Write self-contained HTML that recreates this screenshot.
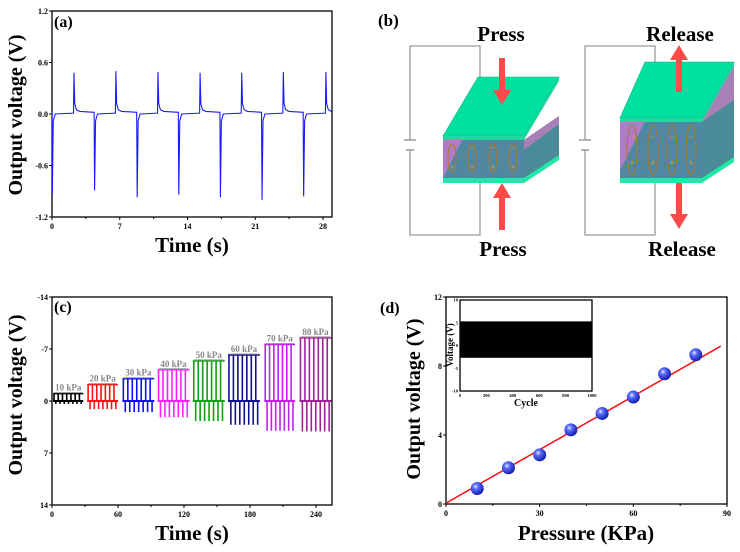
<!DOCTYPE html>
<html><head><meta charset="utf-8"><style>
html,body{margin:0;padding:0;background:#fff;}
svg{display:block;font-family:"Liberation Serif",serif;font-weight:bold;}
</style></head><body>
<svg id="fig" width="740" height="552" viewBox="0 0 740 552" xmlns="http://www.w3.org/2000/svg">
<defs>
<radialGradient id="ball" cx="0.38" cy="0.35" r="0.7">
<stop offset="0" stop-color="#e8ecff"/><stop offset="0.3" stop-color="#5a6cff"/><stop offset="1" stop-color="#0a14a0"/>
</radialGradient>
</defs>
<g id="pa"></g>
<g id="pb">
  <text x="378" y="26" font-size="17">(b)</text>
  <path d="M480,99 V46 H410 V140 M410,150 V235 H480 V183" fill="none" stroke="#999" stroke-width="1.3"/>
  <path d="M404,140 H416 M406,150 H414" stroke="#999" stroke-width="1.5"/>
  <g>
    <polygon points="524,140 559,116 559,159 524,181" fill="#4b8a98"/>
    <polygon points="524,140 559,116 559,124 524,150" fill="#a880b8"/>
    <rect x="443" y="140" width="81" height="41" fill="#4f88a0"/>
    <polygon points="443,140 462,140 443,178" fill="#b07cc8"/>
    <polygon points="443,178 524,178 559,155 559,160 524,183 443,183" fill="#20e8a8"/>
    <polygon points="443,136 478,77 559,77 524,136" fill="#00e0a0" stroke="#10b080" stroke-width="0.6"/>
    <polygon points="443,136 524,136 559,77 559,81 524,140 443,140" fill="#20d8a0"/>
  </g>
  <g id="pressEll"></g>
  <path d="M655,99 V46 H585 V140 M585,150 V235 H655 V183" fill="none" stroke="#999" stroke-width="1.3"/>
  <path d="M579,140 H591 M581,150 H589" stroke="#999" stroke-width="1.5"/>
  <g>
    <polygon points="702,122 734,62 734,160 702,181" fill="#4b8a98"/>
    <polygon points="702,122 734,62 734,100 702,122" fill="#a880b8"/>
    <rect x="620" y="122" width="82" height="58" fill="#4f88a0"/>
    <polygon points="620,122 645,122 620,170" fill="#b07cc8"/>
    <polygon points="620,178 702,178 734,157 734,162 702,183 620,183" fill="#20e8a8"/>
    <polygon points="620,118 645,62 734,62 702,118" fill="#00e0a0" stroke="#10b080" stroke-width="0.6"/>
    <polygon points="620,118 702,118 734,62 734,66 702,122 620,122" fill="#20d8a0"/>
  </g>
  <g id="relEll"></g>
  <path d="M499,58 H505 V90 H511 L502,105 L493,90 H499 Z" fill="#ff4a4a"/>
  <path d="M499,230 H505 V198 H511 L502,183 L493,198 H499 Z" fill="#ff4a4a"/>
  <path d="M676,92 H682 V60 H688 L679,45 L670,60 H676 Z" fill="#ff4a4a"/>
  <path d="M676,183 H682 V214 H688 L679,229 L670,214 H676 Z" fill="#ff4a4a"/>
  <text x="501" y="41" font-size="21" text-anchor="middle">Press</text>
  <text x="503" y="256" font-size="21" text-anchor="middle">Press</text>
  <text x="680" y="41" font-size="21" text-anchor="middle">Release</text>
  <text x="682" y="256" font-size="21" text-anchor="middle">Release</text>
</g>
<g id="pc"></g>
<g id="pd"></g>
</svg>
<script>
// ---------- Panel (a) data ----------
const aPosTimes=[2.27,6.6,10.95,15.3,19.6,23.9,28.3];
const aPosPeaks=[0.48,0.5,0.49,0.48,0.48,0.49,0.49];
const aNegTimes=[0.03,4.4,8.8,13.1,17.4,21.7,26.0];
const aNegPeaks=[-0.95,-0.89,-0.97,-0.94,-0.97,-1.0,-0.96];
const aYTicks=["1.2","0.6","0.0","-0.6","-1.2"];
const aYTickVals=[1.2,0.6,0,-0.6,-1.2];
const aXTicks=[0,7,14,21,28];
// ---------- Panel (c) data ----------
const cLabels=["10 kPa","20 kPa","30 kPa","40 kPa","50 kPa","60 kPa","70 kPa","80 kPa"];
const cColors=["#000000","#ff1010","#1010ff","#ff20ff","#10a010","#101090","#c020f0","#a0209a"];
const cStart=[1,32,64,96,128,160,193,225];
const cEnd=[28.5,60,93,125,157,189,221,254];
const cTop=[-1.0,-2.2,-3.0,-4.2,-5.4,-6.2,-7.6,-8.5];
const cBottom=[0.4,1.1,1.5,2.2,2.7,3.2,4.0,4.1];
const cYTickVals=[-14,-7,0,7,14];
const cXTicks=[0,60,120,180,240];
// ---------- Panel (d) data ----------
const dPressure=[10,20,30,40,50,60,70,80];
const dVoltage=[0.9,2.1,2.85,4.3,5.25,6.2,7.55,8.65];
const dFitX=[0,88];
const dFitY=[0.05,9.15];
const dYTicks=[0,4,8,12];
const dXTicks=[0,30,60,90];
const insetBandMax=[5.3];
const insetBandMin=[-2.7];
const insetXTicks=[0,200,400,600,800,1000];
const insetYTicks=[-10,-5,0,5,10];

const NS="http://www.w3.org/2000/svg";
function mk(parent,tag,attrs,text){const e=document.createElementNS(NS,tag);for(const k in attrs)e.setAttribute(k,attrs[k]);if(text!==undefined)e.textContent=text;parent.appendChild(e);return e;}

function frame(g,x0,y0,x1,y1,name){
  const r=mk(g,'rect',{x:x0,y:y0,width:x1-x0,height:y1-y0,fill:'none',stroke:'#000','stroke-width':1.3});
  
  
}
function ytitle(g,x,y,txt,size,name){
  const t=mk(g,'text',{x:x,y:y,'font-size':size,'text-anchor':'middle',transform:`rotate(-90 ${x} ${y})`,'dominant-baseline':'central'},txt);
  
  
}

// ===== Panel a =====
(function(){
  const g=document.getElementById('pa');
  const X0=52,X1=332,Y0=11,Y1=217;
  const xs=t=>X0+t*(323-52)/28;
  const ys=v=>114-v*(217-11)/2.4;
  frame(g,X0,Y0,X1,Y1,'panel-a-plot-frame');
  aYTickVals.forEach((v,i)=>{
    const l=mk(g,'line',{x1:X0-3,x2:X0,y1:ys(v),y2:ys(v),stroke:'#000'});
    
    
    const t=mk(g,'text',{x:X0-4,y:ys(v)+3,'font-size':8,'text-anchor':'end'},aYTicks[i]);
    
    
  });
  aXTicks.forEach(v=>{
    const l=mk(g,'line',{x1:xs(v),x2:xs(v),y1:Y1,y2:Y1+3,stroke:'#000'});
    
    
    if(xs(v+3.5)<X1){
      const m=mk(g,'line',{x1:xs(v+3.5),x2:xs(v+3.5),y1:Y1,y2:Y1+2,stroke:'#000'});
      
      
    }
    const t=mk(g,'text',{x:xs(v),y:Y1+12,'font-size':8,'text-anchor':'middle'},String(v));
    
    
  });
  const ev=[];
  aPosTimes.forEach((t,i)=>ev.push({t:t,v:aPosPeaks[i],pos:true}));
  aNegTimes.forEach((t,i)=>ev.push({t:t,v:aNegPeaks[i],pos:false}));
  ev.sort((a,b)=>a.t-b.t);
  let d=`M${xs(0)},${ys(0.01)}`;
  ev.forEach(e=>{
    if(e.pos){
      d+=` L${xs(e.t-0.05)},${ys(0.01)} L${xs(e.t)},${ys(e.v)} L${xs(e.t+0.08)},${ys(0.12)} L${xs(e.t+0.25)},${ys(0.05)} L${xs(e.t+0.6)},${ys(0.03)}`;
    } else {
      d+=` L${xs(Math.max(0,e.t-0.05))},${ys(0.02)} L${xs(e.t)},${ys(e.v)} L${xs(e.t+0.1)},${ys(-0.08)} L${xs(e.t+0.3)},${ys(0.0)}`;
    }
  });
  d+=` L${X1-1},${ys(0.03)}`;
  const p=mk(g,'path',{d:d,fill:'none',stroke:'#1a1aff','stroke-width':1.1});
  
  
  const lab=mk(g,'text',{x:54,y:27,'font-size':16},'(a)');
  
  
  ytitle(g,16,115,'Output voltage (V)',20,'a-y-axis-title');
  const xt=mk(g,'text',{x:192,y:252,'font-size':21,'text-anchor':'middle'},'Time (s)');
  
  
})();

// ===== Panel b dipoles =====
(function(){
  const L=document.getElementById('pressEll');
  [452,472,493,513].forEach(x=>{
    const e=mk(L,'ellipse',{cx:x,cy:158,rx:4,ry:14,fill:'none',stroke:'#b07820','stroke-width':1});
    
    
    const m=mk(L,'text',{x:x,y:150,'font-size':8,'text-anchor':'middle',fill:'#e0a020'},'−');
    
    
    const pl=mk(L,'text',{x:x,y:170,'font-size':8,'text-anchor':'middle',fill:'#e0a020'},'+');
    
    
  });
  const R=document.getElementById('relEll');
  [632,653,672,691].forEach(x=>{
    const e=mk(R,'ellipse',{cx:x,cy:150,rx:5,ry:25,fill:'none',stroke:'#b07820','stroke-width':1});
    
    
    const m=mk(R,'text',{x:x,y:140,'font-size':9,'text-anchor':'middle',fill:'#e0a020'},'−');
    
    
    const pl=mk(R,'text',{x:x,y:166,'font-size':9,'text-anchor':'middle',fill:'#e0a020'},'+');
    
    
  });
})();

// ===== Panel c =====
(function(){
  const g=document.getElementById('pc');
  const X0=52,X1=332,Y0=297,Y1=505;
  const xs=t=>X0+t*(316-52)/240;
  const ys=v=>401+v*(Y1-Y0)/28;
  frame(g,X0,Y0,X1,Y1,'panel-c-plot-frame');
  cYTickVals.forEach(v=>{
    const l=mk(g,'line',{x1:X0-3,x2:X0,y1:ys(v),y2:ys(v),stroke:'#000'});
    
    
    const t=mk(g,'text',{x:X0-4,y:ys(v)+3,'font-size':8,'text-anchor':'end'},String(v));
    
    
  });
  cXTicks.forEach(v=>{
    const l=mk(g,'line',{x1:xs(v),x2:xs(v),y1:Y1,y2:Y1+3,stroke:'#000'});
    
    
    if(xs(v+30)<X1){
      const m=mk(g,'line',{x1:xs(v+30),x2:xs(v+30),y1:Y1,y2:Y1+2,stroke:'#000'});
      
      
    }
    const t=mk(g,'text',{x:xs(v),y:Y1+12,'font-size':8,'text-anchor':'middle'},String(v));
    
    
  });
  cLabels.forEach((lab,i)=>{
    const grp=mk(g,'g',{});
    
    
    const s=cStart[i],e=cEnd[i],w=e-s,col=cColors[i];
    const base=mk(grp,'line',{x1:xs(s),x2:xs(e),y1:ys(0),y2:ys(0),stroke:col,'stroke-width':2});
    
    
    const top=mk(grp,'line',{x1:xs(s),x2:xs(e),y1:ys(cTop[i]),y2:ys(cTop[i]),stroke:col,'stroke-width':1.5});
    
    
    for(let k=0;k<7;k++){
      const tu=s+w*(0.03+k*0.14);
      const up=mk(grp,'line',{x1:xs(tu),x2:xs(tu),y1:ys(0),y2:ys(cTop[i]),stroke:col,'stroke-width':1.6});
      
      
      const td=tu+w*0.06;
      const dn=mk(grp,'line',{x1:xs(td),x2:xs(td),y1:ys(0),y2:ys(cBottom[i]),stroke:col,'stroke-width':1.6});
      
      
    }
    const gl=mk(grp,'line',{x1:xs(s+1),x2:xs(e-1),y1:ys(cTop[i])-1,y2:ys(cTop[i])-1,stroke:'#999','stroke-width':1});
    
    
    const t=mk(grp,'text',{x:xs((s+e)/2),y:ys(cTop[i])-3,'font-size':9,'text-anchor':'middle',fill:'#888'},lab);
    
    
  });
  const lab=mk(g,'text',{x:54,y:312,'font-size':16},'(c)');
  
  
  ytitle(g,16,395,'Output voltage (V)',20,'c-y-axis-title');
  const xt=mk(g,'text',{x:192,y:540,'font-size':21,'text-anchor':'middle'},'Time (s)');
  
  
})();

// ===== Panel d =====
(function(){
  const g=document.getElementById('pd');
  const X0=446,X1=727,Y0=297,Y1=504;
  const xs=v=>X0+v*(X1-X0)/90;
  const ys=v=>Y1-v*(Y1-Y0)/12;
  frame(g,X0,Y0,X1,Y1,'panel-d-plot-frame');
  dYTicks.forEach(v=>{
    const l=mk(g,'line',{x1:X0-3,x2:X0,y1:ys(v),y2:ys(v),stroke:'#000'});
    
    
    const t=mk(g,'text',{x:X0-4,y:ys(v)+3,'font-size':8,'text-anchor':'end'},String(v));
    
    
  });
  dXTicks.forEach(v=>{
    const l=mk(g,'line',{x1:xs(v),x2:xs(v),y1:Y1,y2:Y1+3,stroke:'#000'});
    
    
    if(v<90){const m=mk(g,'line',{x1:xs(v+15),x2:xs(v+15),y1:Y1,y2:Y1+2,stroke:'#000'});
    
    }
    const t=mk(g,'text',{x:xs(v),y:Y1+12,'font-size':8,'text-anchor':'middle'},String(v));
    
    
  });
  const fl=mk(g,'line',{x1:xs(dFitX[0]),y1:ys(dFitY[0]),x2:xs(dFitX[1]),y2:ys(dFitY[1]),stroke:'#ff1010','stroke-width':1.5});
  
  
  dPressure.forEach((p,i)=>{
    const c=mk(g,'circle',{cx:xs(p),cy:ys(dVoltage[i]),r:6.5,fill:'url(#ball)'});
    
    
  });
  const IX0=460,IX1=592,IY0=300,IY1=391;
  const ixs=v=>IX0+v*(IX1-IX0)/1000;
  const iys=v=>(IY0+IY1)/2-v*(IY1-IY0)/20;
  frame(g,IX0,IY0,IX1,IY1,'inset-frame');
  const band=mk(g,'rect',{x:ixs(0),y:iys(insetBandMax[0]),width:ixs(1000)-ixs(0),height:iys(insetBandMin[0])-iys(insetBandMax[0]),fill:'#000'});
  
  
  insetYTicks.forEach(v=>{
    const t=mk(g,'text',{x:IX0-2,y:iys(v)+1.5,'font-size':4.5,'text-anchor':'end'},String(v));
    
    
  });
  insetXTicks.forEach(v=>{
    const t=mk(g,'text',{x:ixs(v),y:IY1+6,'font-size':4.5,'text-anchor':'middle'},String(v));
    
    
  });
  const ixt=mk(g,'text',{x:(IX0+IX1)/2,y:IY1+15,'font-size':10,'text-anchor':'middle'},'Cycle');
  
  
  ytitle(g,450,345,'Voltage (V)',9,'inset-y-axis-title');
  const lab=mk(g,'text',{x:380,y:313,'font-size':16},'(d)');
  
  
  ytitle(g,414,399,'Output voltage (V)',20,'d-y-axis-title');
  const xt=mk(g,'text',{x:586,y:540,'font-size':21,'text-anchor':'middle'},'Pressure (KPa)');
  
  
})();
</script>
</body></html>
